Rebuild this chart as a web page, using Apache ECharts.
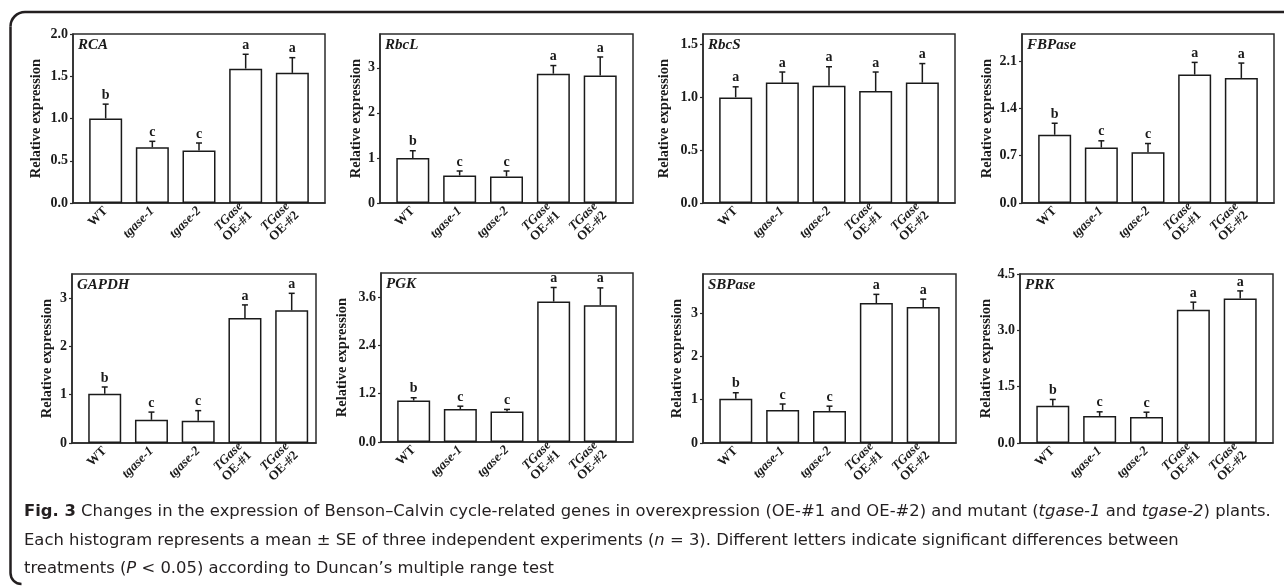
<!DOCTYPE html>
<html>
<head>
<meta charset="utf-8">
<script src="https://cdn.jsdelivr.net/npm/echarts@6/dist/echarts.min.js"></script>
<style>
html, body { margin: 0; padding: 0; background: #fff; }
#main { width: 1284px; height: 586px; }
</style>
</head>
<body>
<div id="main"></div>
<script>
// x categories (same for every panel)
var categories = ['WT', 'tgase-1', 'tgase-2', 'TGase OE-#1', 'TGase OE-#2'];
var genes = ['RCA', 'RbcL', 'RbcS', 'FBPase', 'GAPDH', 'PGK', 'SBPase', 'PRK'];

// mean relative expression and SE
var rcaMean = [1.00, 0.66, 0.62, 1.59, 1.54];
var rcaSE = [0.17, 0.07, 0.09, 0.17, 0.18];
var rbcLMean = [1.00, 0.61, 0.59, 2.87, 2.83];
var rbcLSE = [0.16, 0.10, 0.12, 0.18, 0.41];
var rbcSMean = [1.00, 1.14, 1.11, 1.06, 1.14];
var rbcSSE = [0.10, 0.10, 0.18, 0.18, 0.18];
var fbpaseMean = [1.01, 0.82, 0.75, 1.90, 1.85];
var fbpaseSE = [0.17, 0.10, 0.13, 0.18, 0.22];
var gapdhMean = [1.02, 0.48, 0.46, 2.59, 2.75];
var gapdhSE = [0.14, 0.16, 0.21, 0.27, 0.35];
var pgkMean = [1.03, 0.82, 0.76, 3.49, 3.40];
var pgkSE = [0.07, 0.07, 0.05, 0.35, 0.43];
var sbpaseMean = [1.02, 0.76, 0.74, 3.23, 3.14];
var sbpaseSE = [0.14, 0.14, 0.11, 0.20, 0.18];
var prkMean = [0.99, 0.72, 0.69, 3.55, 3.85];
var prkSE = [0.17, 0.11, 0.13, 0.20, 0.20];

// significance letters
var lettersBCCAA = ['b', 'c', 'c', 'a', 'a'];
var lettersAll = ['a', 'a', 'a', 'a', 'a'];

// y tick labels per panel
var rcaTicks = [0, 0.5, 1.0, 1.5, 2.0];
var rbcLTicks = [0, 1, 2, 3];
var rbcSTicks = [0, 0.5, 1.0, 1.5];
var fbpaseTicks = [0, 0.7, 1.4, 2.1];
var gapdhTicks = [0, 1, 2, 3];
var pgkTicks = [0, 1.2, 2.4, 3.6];
var sbpaseTicks = [0, 1, 2, 3];
var prkTicks = [0, 1.5, 3.0, 4.5];

var means = [rcaMean, rbcLMean, rbcSMean, fbpaseMean, gapdhMean, pgkMean, sbpaseMean, prkMean];
var errors = [rcaSE, rbcLSE, rbcSSE, fbpaseSE, gapdhSE, pgkSE, sbpaseSE, prkSE];
var letters = [lettersBCCAA, lettersBCCAA, lettersAll, lettersBCCAA, lettersBCCAA, lettersBCCAA, lettersBCCAA, lettersBCCAA];
var yTicks = [rcaTicks, rbcLTicks, rbcSTicks, fbpaseTicks, gapdhTicks, pgkTicks, sbpaseTicks, prkTicks];

// layout of the panels
var yMax = [2.0, 3.75, 1.6, 2.5, 3.5, 4.2, 3.9, 4.5];
var decimals = [1, 0, 1, 1, 0, 1, 0, 1];
var xMax = [4.7, 4.7, 4.7, 4.7, 4.52, 4.7, 4.7, 4.7];
var gridBoxes = [
	[73, 34, 252, 169], [380, 34, 253, 169], [703, 34, 252, 169], [1022, 34, 252, 169],
	[72, 274, 244, 169], [381, 273, 252, 169], [703, 274, 253, 169], [1020, 274, 253, 169]
];
var nameGaps = [29, 16, 31, 27, 17, 31, 18, 24];

var serif = '"Liberation Serif", "Times New Roman", serif';
var ink = '#1a1a1a';

function xLabel(value) {
	var name = categories[Math.round(value)];
	if (name === 'WT') return 'WT';
	if (name.indexOf('TGase') === 0) return '{i|TGase}\n' + name.split(' ')[1];
	return '{i|' + name + '}';
}

function errorBar(marks) {
	return function(params, api) {
		var x = api.value(0), v = api.value(1), se = api.value(2);
		var base = api.coord([x, v]);
		var top = api.coord([x, v + se]);
		var line = { stroke: ink, lineWidth: 1.5 };
		return {
			type : 'group',
			children : [ {
				type : 'line',
				shape : { x1 : base[0], y1 : base[1], x2 : top[0], y2 : top[1] },
				style : line
			}, {
				type : 'line',
				shape : { x1 : top[0] - 3, y1 : top[1], x2 : top[0] + 3, y2 : top[1] },
				style : line
			}, {
				type : 'text',
				x : top[0],
				y : top[1] - 2,
				style : {
					text : marks[params.dataIndex],
					align : 'center',
					verticalAlign : 'bottom',
					fontFamily : serif,
					fontWeight : 'bold',
					fontSize : 14,
					fill : ink
				}
			} ]
		};
	};
}

var grids = [], xAxes = [], yAxes = [], series = [], titles = [];
genes.forEach(function(gene, i) {
	var box = gridBoxes[i];
	grids.push({
		left : box[0], top : box[1], width : box[2], height : box[3],
		show : true, borderColor : '#2b2b2b', borderWidth : 1.5
	});
	titles.push({
		text : gene,
		left : box[0] + 5,
		top : box[1] + 4,
		padding : 0,
		textStyle : { fontFamily : serif, fontWeight : 'bold', fontStyle : 'italic', fontSize : 15, color : ink }
	});
	xAxes.push({
		gridIndex : i,
		type : 'value',
		min : -0.7,
		max : xMax[i],
		axisLine : { show : true, onZero : false, lineStyle : { color : '#2b2b2b', width : 1.5 } },
		axisTick : { show : false },
		splitLine : { show : false },
		axisLabel : {
			customValues : [0, 1, 2, 3, 4],
			rotate : 45,
			margin : 6,
			fontFamily : serif, fontWeight : 'bold', fontSize : 13, lineHeight : 13, color : ink,
			formatter : xLabel,
			rich : {
				i : { fontFamily : serif, fontWeight : 'bold', fontStyle : 'italic', fontSize : 13, lineHeight : 13, color : ink }
			}
		}
	});
	yAxes.push({
		gridIndex : i,
		type : 'value',
		min : 0,
		max : yMax[i],
		name : 'Relative expression',
		nameLocation : 'middle',
		nameGap : nameGaps[i],
		nameTextStyle : { fontFamily : serif, fontWeight : 'bold', fontSize : 14.5, color : ink },
		axisLine : { show : true, onZero : false, lineStyle : { color : '#2b2b2b', width : 1.5 } },
		axisTick : { show : true, length : 3, customValues : yTicks[i], lineStyle : { color : '#2b2b2b', width : 1.2 } },
		splitLine : { show : false },
		axisLabel : {
			customValues : yTicks[i],
			margin : 5,
			fontFamily : serif, fontWeight : 'bold', fontSize : 14, color : ink,
			formatter : function(v) { return v.toFixed(decimals[i]); }
		}
	});
	series.push({
		type : 'bar',
		xAxisIndex : i,
		yAxisIndex : i,
		barWidth : 33,
		silent : true,
		itemStyle : { color : '#fff', borderColor : ink, borderWidth : 1.5 },
		data : means[i].map(function(v, k) { return [k, v]; })
	});
	series.push({
		type : 'custom',
		xAxisIndex : i,
		yAxisIndex : i,
		z : 3,
		silent : true,
		renderItem : errorBar(letters[i]),
		data : means[i].map(function(v, k) { return [k, v, errors[i][k]]; })
	});
});

var capFont = '"DejaVu Sans", "Noto Sans", sans-serif';
var capSize = 16.4;
var capRich = {
	b : { fontFamily : capFont, fontSize : capSize, fontWeight : 'bold', fill : '#231f20' },
	i : { fontFamily : capFont, fontSize : capSize, fontStyle : 'italic', fill : '#231f20' }
};
function captionLine(text, y) {
	return {
		type : 'text', x : 24, y : y,
		style : {
			text : text, rich : capRich, verticalAlign : 'middle',
			fontFamily : capFont, fontSize : capSize, fill : '#231f20'
		}
	};
}

// 外框：上边线 + 左边线，圆角
var frame = { fill : 'none', stroke : '#231f20', lineWidth : 2.5 };

var chart = echarts.init(document.getElementById('main'));
chart.setOption({
	animation : false,
	backgroundColor : '#fff',
	title : titles,
	grid : grids,
	xAxis : xAxes,
	yAxis : yAxes,
	series : series,
	graphic : [ {
		type : 'line', shape : { x1 : 25, y1 : 12, x2 : 1284, y2 : 12 }, style : frame
	}, {
		type : 'line', shape : { x1 : 10.5, y1 : 26.5, x2 : 10.5, y2 : 573 }, style : frame
	}, {
		type : 'arc', shape : { cx : 25, cy : 26.5, r : 14.5, startAngle : Math.PI, endAngle : Math.PI * 1.5 }, style : frame
	}, {
		type : 'arc', shape : { cx : 21.5, cy : 573, r : 11, startAngle : Math.PI * 0.5, endAngle : Math.PI }, style : frame
	},
	captionLine('{b|Fig. 3} Changes in the expression of Benson\u2013Calvin cycle-related genes in overexpression (OE-#1 and OE-#2) and mutant ({i|tgase-1} and {i|tgase-2}) plants.', 512),
	captionLine('Each histogram represents a mean \u00b1 SE of three independent experiments ({i|n} = 3). Different letters indicate significant differences between', 541),
	captionLine('treatments ({i|P} < 0.05) according to Duncan\u2019s multiple range test', 569) ]
});
</script>
</body>
</html>
